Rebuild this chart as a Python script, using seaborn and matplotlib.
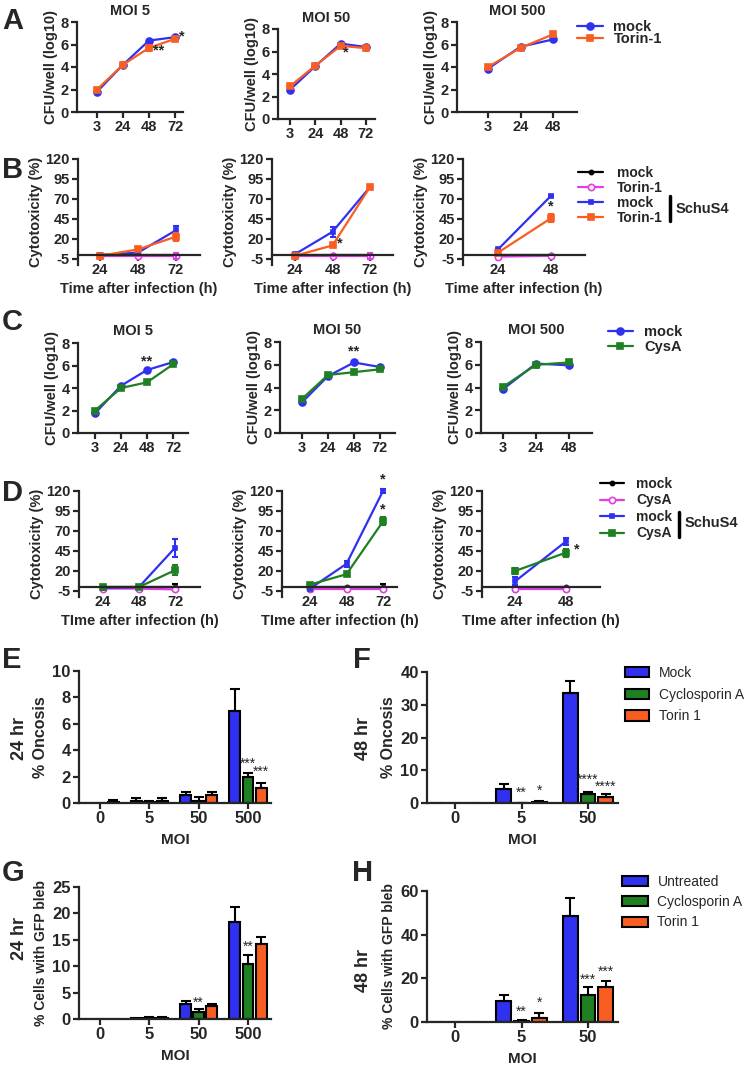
import matplotlib
matplotlib.use("Agg")
import matplotlib.pyplot as plt
import numpy as np
import pandas as pd
import seaborn as sns
from matplotlib.lines import Line2D

# ----------------------------------------------------------------------------
# Data
# ----------------------------------------------------------------------------
TIMES_72 = ["3", "24", "48", "72"]
TIMES_48 = ["3", "24", "48"]
CYTO_72 = ["24", "48", "72"]
CYTO_48 = ["24", "48"]
MOI_4 = ["0", "5", "50", "500"]
MOI_3 = ["0", "5", "50"]

# A - CFU/well, mock vs Torin-1
a5_mock = [1.8, 4.2, 6.35, 6.65]
a5_torin = [2.0, 4.2, 5.7, 6.5]
a5_torin_err = [0.1, 0.1, 0.3, 0.1]
a50_mock = [2.6, 4.7, 6.7, 6.4]
a50_torin = [2.9, 4.75, 6.5, 6.3]
a500_mock = [3.85, 5.8, 6.45]
a500_torin = [4.0, 5.7, 6.9]

# B - cytotoxicity, Torin-1
b5_mock = [0, 0, 0]
b5_torin = [-1, -1, -1]
b5_torin_err = [0.5, 0.5, 4]
b5_schu_mock = [0, 3, 31]
b5_schu_mock_err = [1, 1, 5]
b5_schu_torin = [-1, 7, 23]
b5_schu_torin_err = [1, 2, 5]
b50_mock = [0, 0, 0]
b50_torin = [-1, -1, -1]
b50_torin_err = [0.5, 0.5, 4]
b50_schu_mock = [1, 29, 85]
b50_schu_mock_err = [1, 6, 2]
b50_schu_torin = [-1, 12, 85]
b50_schu_torin_err = [1, 2, 2]
b500_mock = [0, 0]
b500_torin = [-2, -1]
b500_schu_mock = [7, 74]
b500_schu_mock_err = [1, 1]
b500_schu_torin = [3, 46]
b500_schu_torin_err = [2, 5]

# C - CFU/well, mock vs CysA
c5_mock = [1.75, 4.2, 5.6, 6.3]
c5_cysa = [2.0, 4.0, 4.5, 6.1]
c50_mock = [2.7, 5.0, 6.2, 5.8]
c50_cysa = [3.0, 5.1, 5.35, 5.6]
c500_mock = [3.85, 6.1, 5.95]
c500_cysa = [4.05, 6.0, 6.2]

# D - cytotoxicity, CysA
d5_mock = [0, 0, 0]
d5_mock_err = [0.5, 0.5, 4]
d5_cysa = [-2, -2, -3]
d5_schu_mock = [-1, 0, 49]
d5_schu_mock_err = [1, 1, 11]
d5_schu_cysa = [0, 0, 21]
d5_schu_cysa_err = [1, 1, 6]
d50_mock = [0, 0, 0]
d50_mock_err = [0.5, 0.5, 4]
d50_cysa = [-3, -3, -3]
d50_schu_mock = [-2, 29, 120]
d50_schu_mock_err = [1, 4, 2]
d50_schu_cysa = [3, 16, 82]
d50_schu_cysa_err = [1, 2, 5]
d500_mock = [0, 0]
d500_cysa = [-3, -3]
d500_schu_mock = [7, 57]
d500_schu_mock_err = [5, 4]
d500_schu_cysa = [20, 43]
d500_schu_cysa_err = [4, 5]

# E/F - % oncosis
e_mock = [0, 0.15, 0.6, 7.0]
e_mock_err = [0, 0.25, 0.25, 1.6]
e_cysa = [0, 0.1, 0.15, 1.95]
e_cysa_err = [0, 0.05, 0.3, 0.35]
e_torin = [0.05, 0.15, 0.6, 1.1]
e_torin_err = [0.2, 0.25, 0.25, 0.45]
f_mock = [0, 4.2, 33.5]
f_mock_err = [0, 1.7, 3.9]
f_cysa = [0, 0.1, 2.6]
f_cysa_err = [0, 0.05, 0.9]
f_torin = [0, 0.4, 1.8]
f_torin_err = [0, 0.2, 1.0]

# G/H - % cells with GFP bleb
g_mock = [0, 0.1, 2.8, 18.4]
g_mock_err = [0, 0, 0.7, 2.9]
g_cysa = [0, 0.2, 1.3, 10.5]
g_cysa_err = [0, 0.2, 0.6, 1.7]
g_torin = [0, 0.2, 2.5, 14.2]
g_torin_err = [0, 0.1, 0.4, 1.4]
h_mock = [0, 9.8, 48.5]
h_mock_err = [0, 2.7, 8.5]
h_cysa = [0, 0.6, 12.5]
h_cysa_err = [0, 0.4, 3.5]
h_torin = [0, 2.0, 16.0]
h_torin_err = [0, 2.0, 2.8]

# ----------------------------------------------------------------------------
# Style
# ----------------------------------------------------------------------------
BLUE = "#3030F0"
ORANGE = "#F85E22"
GREEN = "#1F7F23"
MAGENTA = "#E23BE8"

W, H = 750, 1068

sns.set_style("ticks")
plt.rcParams["font.family"] = ["Liberation Sans", "DejaVu Sans"]
plt.rcParams.update({
    "font.weight": "bold",
    "axes.labelweight": "bold",
    "axes.titleweight": "bold",
    "axes.unicode_minus": False,
    "axes.linewidth": 1.6,
    "xtick.major.width": 1.6,
    "ytick.major.width": 1.6,
    "xtick.major.size": 4,
    "ytick.major.size": 4,
    "xtick.major.pad": 2,
    "ytick.major.pad": 2,
})

STYLES = {
    "mock": dict(color=BLUE, marker="o", markersize=5),
    "torin": dict(color=ORANGE, marker="s", markersize=5),
    "cysa": dict(color=GREEN, marker="s", markersize=5),
    "mock_un": dict(color="black", marker="o", markersize=3),
    "drug_un": dict(color=MAGENTA, marker="o", markersize=4.5, markerfacecolor="white"),
    "mock_schu": dict(color=BLUE, marker="s", markersize=3),
}

fig = plt.figure(figsize=(W / 100, H / 100), dpi=100)


def add_axes(left, right, top, bottom):
    """Add axes from a pixel box (top-left origin)."""
    return fig.add_axes([left / W, 1 - bottom / H, (right - left) / W, (bottom - top) / H])


def fit_x(ax, left, right, first, last, n):
    """Set xlim so category 0 sits at pixel `first` and n-1 at `last`."""
    step = (last - first) / (n - 1)
    ax.set_xlim((left - first) / step, (right - first) / step)


def line_panel(box, labels, series, ylim, yticks, ylabel, cyto=False):
    left, right, top, bottom, first, last = box
    ax = add_axes(left, right, top, bottom)
    x = np.arange(len(labels))
    for name, values, errors, key in series:
        st = dict(STYLES[key])
        color = st.pop("color")
        st.setdefault("markerfacecolor", color)
        sns.lineplot(x=x, y=values, color=color, markeredgecolor=color,
                     markeredgewidth=1.2, linewidth=1.6, label=name,
                     errorbar=None, ax=ax, clip_on=False, **st)
        if errors is not None:
            ax.errorbar(x, values, yerr=errors, fmt="none", ecolor=color,
                        elinewidth=1.5, capsize=2.5, capthick=1.5, clip_on=False)
    fit_x(ax, left, right, first, last, len(labels))
    ax.set_ylim(*ylim)
    ax.set_yticks(yticks)
    ax.set_xticks(x)
    ax.set_xticklabels(labels)
    sns.despine(ax=ax)
    ax.tick_params(labelsize=10.5)
    ax.set_ylabel(ylabel, fontsize=10.5, labelpad=2)
    if cyto:
        ax.spines["bottom"].set_position(("data", 0))
    return ax


def line_legend(ax, left, top, spacing, hlen, pad, size=10.5):
    handles, labels = ax.get_legend_handles_labels()
    ax.legend(handles, labels, loc="upper left",
              bbox_to_anchor=(left / W, 1 - top / H), bbox_transform=fig.transFigure,
              frameon=False, borderpad=0, borderaxespad=0, labelspacing=spacing,
              handlelength=hlen, handletextpad=pad,
              prop={"weight": "bold", "size": size})


def bar_panel(box, mois, values, errors, names, ylim, yticks, ylabel, ylabel_size):
    left, right, top, bottom, first, last = box
    ax = add_axes(left, right, top, bottom)
    df = pd.DataFrame({
        "MOI": np.tile(mois, len(names)),
        "value": np.concatenate(values),
        "group": np.repeat(names, len(mois)),
    })
    sns.barplot(data=df, x="MOI", y="value", hue="group", order=mois,
                hue_order=names, palette=[BLUE, GREEN, ORANGE], saturation=1,
                edgecolor="black", linewidth=1.5, width=0.8, gap=0.18,
                errorbar=None, ax=ax)
    for container, errs in zip(ax.containers, errors):
        for bar, err in zip(container, errs):
            if err > 0:
                ax.errorbar(bar.get_x() + bar.get_width() / 2, bar.get_height(),
                            yerr=[[0], [err]], fmt="none", ecolor="black",
                            elinewidth=1.5, capsize=3.5, capthick=1.5)
    fit_x(ax, left, right, first, last, len(mois))
    ax.set_ylim(*ylim)
    ax.set_yticks(yticks)
    sns.despine(ax=ax)
    ax.tick_params(labelsize=12)
    ax.set_xlabel("MOI", fontsize=11, labelpad=5)
    ax.set_ylabel(ylabel, fontsize=ylabel_size, labelpad=3)
    return ax


def bar_stars(ax, stars):
    for hue_idx, moi_idx, y, text in stars:
        bar = ax.containers[hue_idx][moi_idx]
        ax.text(bar.get_x() + bar.get_width() / 2, y, text, ha="center",
                va="center", fontsize=10, fontweight="normal", clip_on=False)


def bar_legend(ax, left, top, spacing, hlen, pad):
    leg = ax.get_legend()
    handles = leg.legend_handles
    labels = [t.get_text() for t in leg.get_texts()]
    ax.legend(handles, labels, loc="upper left",
              bbox_to_anchor=(left / W, 1 - top / H), bbox_transform=fig.transFigure,
              frameon=False, borderpad=0, borderaxespad=0, labelspacing=spacing,
              handlelength=hlen, handleheight=0.75, handletextpad=pad,
              prop={"weight": "normal", "size": 10})


def line_stars(ax, stars):
    for x, y, text, ha in stars:
        ax.text(x, y, text, ha=ha, va="center", fontsize=10.5, clip_on=False)


# ----------------------------------------------------------------------------
# Panel A
# ----------------------------------------------------------------------------
CFU_LABEL = "CFU/well (log10)"
CYTO_LABEL = "Cytotoxicity (%)"
CFU_TICKS = [0, 2, 4, 6, 8]
CYTO_TICKS = [-5, 20, 45, 70, 95, 120]

axA1 = line_panel((77, 183, 22, 112, 97, 175), TIMES_72,
                  [("mock", a5_mock, None, "mock"),
                   ("Torin-1", a5_torin, a5_torin_err, "torin")],
                  (0, 8), CFU_TICKS, CFU_LABEL)
axA2 = line_panel((278, 375, 29, 119, 290, 366), TIMES_72,
                  [("mock", a50_mock, None, "mock"),
                   ("Torin-1", a50_torin, None, "torin")],
                  (0, 8), CFU_TICKS, CFU_LABEL)
axA3 = line_panel((457, 577, 22, 112, 488, 553), TIMES_48,
                  [("mock", a500_mock, None, "mock"),
                   ("Torin-1", a500_torin, None, "torin")],
                  (0, 8), CFU_TICKS, CFU_LABEL)
for ax, title in zip([axA1, axA2, axA3], ["MOI 5", "MOI 50", "MOI 500"]):
    ax.set_title(title, fontsize=10.5, pad=5)
axA1.get_legend().remove()
axA2.get_legend().remove()
line_legend(axA3, 577, 20, -0.12, 1.8, 0.7)
line_stars(axA1, [(2.15, 5.5, "**", "left"), (3.15, 6.7, "*", "left")])
line_stars(axA2, [(2.1, 5.95, "*", "left")])

# ----------------------------------------------------------------------------
# Panel B
# ----------------------------------------------------------------------------
axB1 = line_panel((78, 200, 159, 265, 100, 176), CYTO_72,
                  [("mock", b5_mock, None, "mock_un"),
                   ("Torin-1", b5_torin, b5_torin_err, "drug_un"),
                   ("mock", b5_schu_mock, b5_schu_mock_err, "mock_schu"),
                   ("Torin-1", b5_schu_torin, b5_schu_torin_err, "torin")],
                  (-12.5, 120), CYTO_TICKS, CYTO_LABEL, cyto=True)
axB2 = line_panel((272, 393, 159, 265, 295, 370), CYTO_72,
                  [("mock", b50_mock, None, "mock_un"),
                   ("Torin-1", b50_torin, b50_torin_err, "drug_un"),
                   ("mock", b50_schu_mock, b50_schu_mock_err, "mock_schu"),
                   ("Torin-1", b50_schu_torin, b50_schu_torin_err, "torin")],
                  (-12.5, 120), CYTO_TICKS, CYTO_LABEL, cyto=True)
axB3 = line_panel((463, 585, 159, 265, 498, 551), CYTO_48,
                  [("mock", b500_mock, None, "mock_un"),
                   ("Torin-1", b500_torin, None, "drug_un"),
                   ("mock", b500_schu_mock, b500_schu_mock_err, "mock_schu"),
                   ("Torin-1", b500_schu_torin, b500_schu_torin_err, "torin")],
                  (-12.5, 120), CYTO_TICKS, CYTO_LABEL, cyto=True)
for ax in [axB1, axB2, axB3]:
    ax.set_xlabel("Time after infection (h)", fontsize=10.5, labelpad=3)
axB1.get_legend().remove()
axB2.get_legend().remove()
line_legend(axB3, 578, 166, 0.08, 1.8, 1.0, size=10)
line_stars(axB2, [(1.2, 15, "*", "center")])
line_stars(axB3, [(1.0, 61, "*", "center")])

# ----------------------------------------------------------------------------
# Panel C
# ----------------------------------------------------------------------------
axC1 = line_panel((78, 188, 343, 433, 95, 173), TIMES_72,
                  [("mock", c5_mock, None, "mock"),
                   ("CysA", c5_cysa, None, "cysa")],
                  (0, 8), CFU_TICKS, CFU_LABEL)
axC2 = line_panel((280, 395, 342, 433, 302, 380), TIMES_72,
                  [("mock", c50_mock, None, "mock"),
                   ("CysA", c50_cysa, None, "cysa")],
                  (0, 8), CFU_TICKS, CFU_LABEL)
axC3 = line_panel((481, 592, 342, 433, 503, 569), TIMES_48,
                  [("mock", c500_mock, None, "mock"),
                   ("CysA", c500_cysa, None, "cysa")],
                  (0, 8), CFU_TICKS, CFU_LABEL)
for ax, title in zip([axC1, axC2, axC3], ["MOI 5", "MOI 50", "MOI 500"]):
    ax.set_title(title, fontsize=10.5, pad=6)
axC1.get_legend().remove()
axC2.get_legend().remove()
line_legend(axC3, 608, 325, 0.05, 1.7, 0.8)
line_stars(axC1, [(2.0, 6.4, "**", "center")])
line_stars(axC2, [(2.0, 7.2, "**", "center")])

# ----------------------------------------------------------------------------
# Panel D
# ----------------------------------------------------------------------------
axD1 = line_panel((79, 200, 491, 597, 103, 175), CYTO_72,
                  [("mock", d5_mock, d5_mock_err, "mock_un"),
                   ("CysA", d5_cysa, None, "drug_un"),
                   ("mock", d5_schu_mock, d5_schu_mock_err, "mock_schu"),
                   ("CysA", d5_schu_cysa, d5_schu_cysa_err, "cysa")],
                  (-12.5, 120), CYTO_TICKS, CYTO_LABEL, cyto=True)
axD2 = line_panel((282, 397, 491, 597, 310, 383), CYTO_72,
                  [("mock", d50_mock, d50_mock_err, "mock_un"),
                   ("CysA", d50_cysa, None, "drug_un"),
                   ("mock", d50_schu_mock, d50_schu_mock_err, "mock_schu"),
                   ("CysA", d50_schu_cysa, d50_schu_cysa_err, "cysa")],
                  (-12.5, 120), CYTO_TICKS, CYTO_LABEL, cyto=True)
axD3 = line_panel((482, 600, 491, 597, 515, 566), CYTO_48,
                  [("mock", d500_mock, None, "mock_un"),
                   ("CysA", d500_cysa, None, "drug_un"),
                   ("mock", d500_schu_mock, d500_schu_mock_err, "mock_schu"),
                   ("CysA", d500_schu_cysa, d500_schu_cysa_err, "cysa")],
                  (-12.5, 120), CYTO_TICKS, CYTO_LABEL, cyto=True)
for ax in [axD1, axD2, axD3]:
    ax.set_xlabel("TIme after infection (h)", fontsize=10.5, labelpad=3)
axD1.get_legend().remove()
axD2.get_legend().remove()
line_legend(axD3, 600, 477, 0.18, 1.7, 0.9, size=10)
line_stars(axD2, [(2.0, 134, "*", "center"), (2.0, 97, "*", "center")])
line_stars(axD3, [(1.15, 47, "*", "left")])

for x0, y1, y2, ytext in [(670, 196, 221, 209), (679, 512, 537, 523)]:
    fig.add_artist(Line2D([x0 / W, x0 / W], [1 - y1 / H, 1 - y2 / H],
                          color="black", linewidth=2.5))
    fig.text((x0 + 6) / W, 1 - ytext / H, "SchuS4", fontsize=10.5,
             ha="left", va="center")

# ----------------------------------------------------------------------------
# Panels E - H (bar charts)
# ----------------------------------------------------------------------------
ONC_NAMES = ["Mock", "Cyclosporin A", "Torin 1"]
GFP_NAMES = ["Untreated", "Cyclosporin A", "Torin 1"]

axE = bar_panel((79, 271, 671, 803, 100, 248), MOI_4,
                [e_mock, e_cysa, e_torin], [e_mock_err, e_cysa_err, e_torin_err],
                ONC_NAMES, (0, 10), [0, 2, 4, 6, 8, 10], "% Oncosis", 11.5)
axE.get_legend().remove()
bar_stars(axE, [(1, 3, 3.0, "***"), (2, 3, 2.4, "***")])

axF = bar_panel((427, 618, 672, 803, 455, 588), MOI_3,
                [f_mock, f_cysa, f_torin], [f_mock_err, f_cysa_err, f_torin_err],
                ONC_NAMES, (0, 40), [0, 10, 20, 30, 40], "% Oncosis", 11.5)
bar_legend(axF, 625, 666, 0.55, 1.7, 0.75)
bar_stars(axF, [(1, 1, 3.0, "**"), (2, 1, 3.7, "*"),
                (1, 2, 7.1, "****"), (2, 2, 5.1, "****")])

axG = bar_panel((79, 271, 887, 1019, 100, 248), MOI_4,
                [g_mock, g_cysa, g_torin], [g_mock_err, g_cysa_err, g_torin_err],
                GFP_NAMES, (0, 25), [0, 5, 10, 15, 20, 25],
                "% Cells with GFP bleb", 10)
axG.get_legend().remove()
bar_stars(axG, [(1, 2, 3.1, "**"), (1, 3, 13.6, "**")])

axH = bar_panel((427, 618, 891, 1022, 455, 588), MOI_3,
                [h_mock, h_cysa, h_torin], [h_mock_err, h_cysa_err, h_torin_err],
                GFP_NAMES, (0, 60), [0, 20, 40, 60],
                "% Cells with GFP bleb", 10)
bar_legend(axH, 622, 875, 0.45, 1.9, 0.65)
bar_stars(axH, [(1, 1, 4.6, "**"), (2, 1, 8.7, "*"),
                (1, 2, 19.4, "***"), (2, 2, 22.9, "***")])

for x, y, text in [(19, 738, "24 hr"), (363, 738, "48 hr"),
                   (19, 938, "24 hr"), (363, 971, "48 hr")]:
    fig.text(x / W, 1 - y / H, text, rotation=90, fontsize=13,
             ha="center", va="center")

# ----------------------------------------------------------------------------
# Panel letters
# ----------------------------------------------------------------------------
for x, y, letter in [(13, 21, "A"), (13, 170, "B"), (12, 322, "C"),
                     (12, 493, "D"), (12, 660, "E"), (362, 660, "F"),
                     (13, 873, "G"), (363, 873, "H")]:
    fig.text(x / W, 1 - y / H, letter, fontsize=21, ha="center", va="center")

fig.savefig("out.png", dpi=100)
